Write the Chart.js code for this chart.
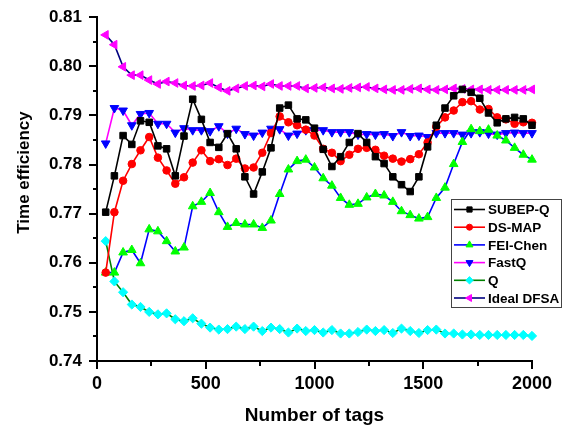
<!DOCTYPE html>
<html><head><meta charset="utf-8">
<script src="https://cdn.jsdelivr.net/npm/chart.js@4.4.0/dist/chart.umd.min.js"></script>
<style>html,body{margin:0;padding:0;background:#fff;}#wrap{width:568px;height:428px;}</style>
</head><body><div id="wrap"><canvas id="c" width="568" height="428"></canvas></div>
<script>
const tags = [40,80,120,160,200,240,280,320,360,400,440,480,520,560,600,640,680,720,760,800,840,880,920,960,1000,1040,1080,1120,1160,1200,1240,1280,1320,1360,1400,1440,1480,1520,1560,1600,1640,1680,1720,1760,1800,1840,1880,1920,1960,2000];
const subepq = [0.7703,0.7777,0.7859,0.7841,0.7889,0.7886,0.7838,0.7832,0.7777,0.7858,0.7933,0.7892,0.7845,0.7835,0.7863,0.7832,0.7775,0.7740,0.7785,0.7834,0.7915,0.7921,0.7893,0.7891,0.7874,0.7831,0.7796,0.7816,0.7845,0.7863,0.7845,0.7816,0.7802,0.7775,0.7759,0.7745,0.7775,0.7836,0.7880,0.7915,0.7940,0.7953,0.7947,0.7935,0.7905,0.7885,0.7893,0.7896,0.7893,0.7880];
const dsmap = [0.7580,0.7703,0.7767,0.7801,0.7829,0.7856,0.7814,0.7788,0.7761,0.7774,0.7804,0.7829,0.7807,0.7811,0.7799,0.7812,0.7792,0.7794,0.7824,0.7864,0.7898,0.7886,0.7880,0.7871,0.7859,0.7832,0.7824,0.7807,0.7820,0.7832,0.7834,0.7830,0.7818,0.7812,0.7806,0.7811,0.7821,0.7845,0.7877,0.7896,0.7910,0.7927,0.7929,0.7912,0.7913,0.7896,0.7892,0.7883,0.7886,0.7885];
const feichen = [0.7580,0.7580,0.7621,0.7626,0.7599,0.7668,0.7664,0.7644,0.7623,0.7631,0.7715,0.7724,0.7742,0.7703,0.7673,0.7681,0.7678,0.7678,0.7671,0.7686,0.7740,0.7790,0.7807,0.7810,0.7794,0.7772,0.7757,0.7732,0.7718,0.7720,0.7733,0.7740,0.7737,0.7724,0.7705,0.7697,0.7690,0.7693,0.7732,0.7753,0.7801,0.7846,0.7872,0.7868,0.7871,0.7859,0.7849,0.7834,0.7820,0.7810];
const fastq = [0.7843,0.7915,0.7910,0.7880,0.7903,0.7905,0.7883,0.7883,0.7865,0.7874,0.7870,0.7870,0.7868,0.7878,0.7863,0.7873,0.7862,0.7859,0.7865,0.7873,0.7872,0.7859,0.7863,0.7870,0.7870,0.7870,0.7866,0.7866,0.7866,0.7861,0.7862,0.7861,0.7862,0.7858,0.7866,0.7858,0.7859,0.7856,0.7864,0.7864,0.7864,0.7861,0.7864,0.7866,0.7863,0.7861,0.7864,0.7865,0.7864,0.7864];
const q = [0.7644,0.7562,0.7540,0.7515,0.7510,0.7500,0.7495,0.7497,0.7485,0.7481,0.7487,0.7476,0.7468,0.7464,0.7465,0.7470,0.7465,0.7470,0.7461,0.7468,0.7465,0.7458,0.7466,0.7461,0.7463,0.7458,0.7463,0.7456,0.7456,0.7459,0.7464,0.7461,0.7463,0.7457,0.7466,0.7461,0.7457,0.7463,0.7464,0.7456,0.7456,0.7454,0.7454,0.7453,0.7453,0.7453,0.7453,0.7453,0.7453,0.7451];
const idealdfsa = [0.8064,0.8044,0.7999,0.7982,0.7982,0.7972,0.7964,0.7969,0.7966,0.7961,0.7960,0.7961,0.7966,0.7957,0.7950,0.7955,0.7960,0.7961,0.7959,0.7964,0.7960,0.7960,0.7960,0.7955,0.7956,0.7957,0.7955,0.7954,0.7956,0.7957,0.7958,0.7955,0.7953,0.7952,0.7952,0.7954,0.7955,0.7953,0.7952,0.7953,0.7955,0.7954,0.7953,0.7953,0.7952,0.7952,0.7952,0.7952,0.7952,0.7953];
const seriesNames = ["SUBEP-Q","DS-MAP","FEI-Chen","FastQ","Q","Ideal DFSA"];
const xTickStep = 500, xMin = 0, xMax = 2000;
const yTickStep = 0.01, yMin = 0.74, yMax = 0.81;
const xMinorTicks = [250,750,1250,1750];
const yMinorTicks = [0.745,0.755,0.765,0.775,0.785,0.795,0.805];
const xTitle = "Number of tags";
const yTitle = "Time efficiency";

const FONT = "'Liberation Sans', Arial, Helvetica, sans-serif";
const pts = arr => arr.map((v,i)=>({x:tags[i], y:v}));

function ds(label, data, line, fill, style, radius, rot){
  return {label, data: pts(data), borderColor: line, backgroundColor: fill,
    pointBackgroundColor: fill, pointBorderColor: fill, pointStyle: style,
    pointRadius: radius, pointRotation: rot||0, pointBorderWidth: 1,
    borderWidth: 1.6, tension: 0, clip: false};
}

const datasets = [
  ds(seriesNames[0], subepq, '#000000', '#000000', 'rect', 4.6),
  ds(seriesNames[1], dsmap, '#ff0000', '#ff0000', 'circle', 3.8),
  ds(seriesNames[2], feichen, '#0000ff', '#00ff00', 'triangle', 5),
  ds(seriesNames[3], fastq, '#ff00ff', '#0000ff', 'triangle', 5, 180),
  ds(seriesNames[4], q, '#008000', '#00ffff', 'rectRot', 4.6),
  ds(seriesNames[5], idealdfsa, '#000080', '#ff00ff', 'triangle', 5, -90)
];

const extras = {
  id: 'extras',
  afterDraw(chart){
    const {ctx, chartArea:a, scales:{x, y}} = chart;
    ctx.save();
    ctx.strokeStyle = '#000'; ctx.lineWidth = 2;
    for (const v of yMinorTicks){ const py = Math.round(y.getPixelForValue(v)); ctx.beginPath(); ctx.moveTo(a.left-4, py); ctx.lineTo(a.left, py); ctx.stroke(); }
    for (const v of xMinorTicks){ const px = Math.round(x.getPixelForValue(v)); ctx.beginPath(); ctx.moveTo(px, a.bottom); ctx.lineTo(px, a.bottom+5); ctx.stroke(); }
    // titles
    ctx.fillStyle = '#000'; ctx.textAlign = 'center'; ctx.textBaseline = 'middle';
    ctx.font = "bold 19px " + FONT;
    ctx.fillText(xTitle, (a.left+a.right)/2, 416);
    ctx.save(); ctx.translate(24.5, 172.5); ctx.rotate(-Math.PI/2);
    ctx.font = "bold 17px " + FONT; ctx.fillText(yTitle, 0, 0); ctx.restore();
    // legend
    const bx = 451.5, by = 199.5, bw = 110, bh = 108;
    ctx.fillStyle = '#fff'; ctx.fillRect(bx, by, bw, bh);
    ctx.strokeStyle = '#444'; ctx.lineWidth = 1; ctx.strokeRect(bx, by, bw, bh);
    ctx.font = "bold 13.5px " + FONT; ctx.textAlign = 'left';
    chart.data.datasets.forEach((d, i) => {
      const cy = 209.5 + i*17.7;
      ctx.strokeStyle = d.borderColor; ctx.lineWidth = 1.6;
      ctx.beginPath(); ctx.moveTo(454, cy); ctx.lineTo(485, cy); ctx.stroke();
      ctx.fillStyle = d.pointBackgroundColor; ctx.strokeStyle = d.pointBorderColor; ctx.lineWidth = 1;
      Chart.helpers.drawPoint(ctx, {pointStyle: d.pointStyle, rotation: d.pointRotation, radius: d.pointRadius*0.8, borderWidth: 1}, 469.5, cy);
      ctx.fillStyle = '#000';
      ctx.fillText(d.label, 488, cy+1);
    });
    ctx.restore();
  }
};

new Chart(document.getElementById('c'), {
  type: 'line',
  data: { datasets },
  options: {
    responsive: false, animation: false, devicePixelRatio: 1,
    layout: { padding: { top: 14, right: 36, left: 0, bottom: 0 } },
    plugins: { legend: { display: false }, tooltip: { enabled: false } },
    scales: {
      x: { type: 'linear', min: xMin, max: xMax,
        ticks: { stepSize: xTickStep, color: '#000', font: { family: FONT, size: 18, weight: 'bold' }, padding: 4, maxRotation: 0, callback: v => String(v) },
        grid: { drawOnChartArea: false, drawTicks: true, tickLength: 8, color: '#000', lineWidth: 2 },
        border: { display: true, color: '#000', width: 2 },
        afterFit(s){ s.height = 67; } },
      y: { type: 'linear', min: yMin, max: yMax,
        ticks: { stepSize: yTickStep, color: '#000', font: { family: FONT, size: 17, weight: 'bold' }, padding: 7, callback: v => v.toFixed(2) },
        grid: { drawOnChartArea: false, drawTicks: true, tickLength: 8, color: '#000', lineWidth: 2 },
        border: { display: true, color: '#000', width: 2 },
        afterFit(s){ s.width = 97; } }
    }
  },
  plugins: [extras]
});
</script></body></html>
